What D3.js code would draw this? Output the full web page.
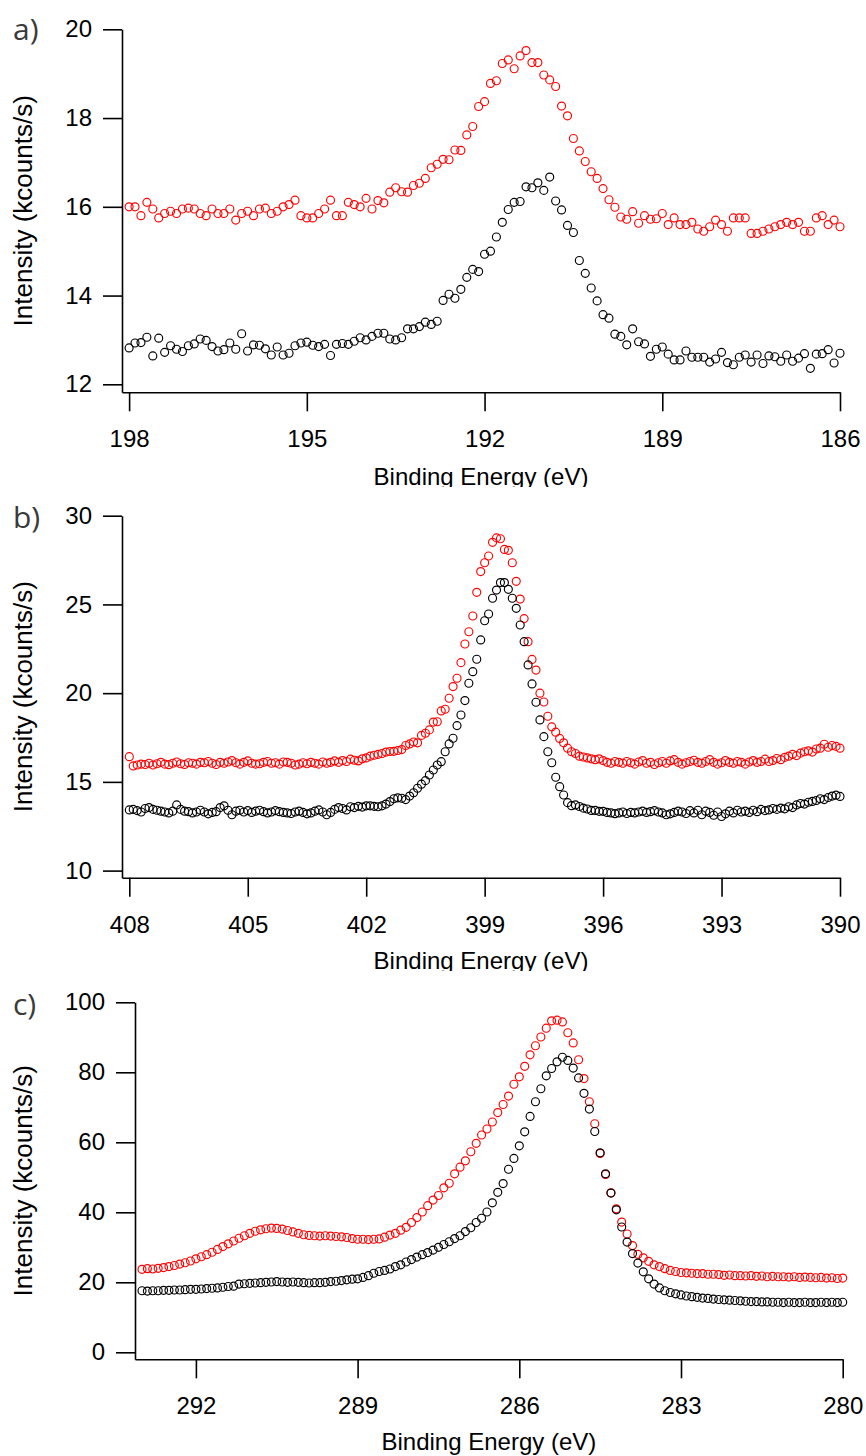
<!DOCTYPE html>
<html>
<head>
<meta charset="utf-8">
<script src="https://cdn.jsdelivr.net/npm/d3@7"></script>
<style>
  body { margin: 0; background: #fff; }
</style>
</head>
<body>
<div id="chart"></div>
<script>
//scan grids, every spectrum is sampled in 0.1 eV steps going down in energy
var stepEV = 0.1;
var aStart = 198;
var bStart = 408;
var cStart = 293;

//tick labels for each panel
var aTicksX = [198, 195, 192, 189, 186];
var aTicksY = [12, 14, 16, 18, 20];
var bTicksX = [408, 405, 402, 399, 396, 393, 390];
var bTicksY = [10, 15, 20, 25, 30];
var cTicksX = [292, 289, 286, 283, 280];
var cTicksY = [0, 20, 40, 60, 80, 100];

//panel a) intensities in kcounts/s
var aBlack = [12.82, 12.93, 12.94, 13.06, 12.64, 13.04, 12.72, 12.87, 12.79, 12.74, 12.87, 12.91, 13.02, 12.99, 12.85,
  12.75, 12.78, 12.93, 12.79, 13.14, 12.75, 12.89, 12.88, 12.80, 12.66, 12.84, 12.66, 12.70, 12.87, 12.93,
  12.95, 12.88, 12.85, 12.90, 12.65, 12.90, 12.92, 12.90, 12.97, 13.05, 13.00, 13.08, 13.15, 13.15, 13.02,
  13.00, 13.05, 13.25, 13.25, 13.30, 13.40, 13.35, 13.42,
  13.89, 14.03, 13.94, 14.14, 14.41, 14.59, 14.54, 14.93, 15.00, 15.32, 15.65, 15.94, 16.10, 16.12, 16.45,
  16.43, 16.54, 16.37, 16.67, 16.13, 15.93, 15.58, 15.42, 14.79, 14.50, 14.17, 13.88,
  13.57, 13.49, 13.13, 13.08, 12.89, 13.25, 12.96, 12.91, 12.63, 12.79, 12.84, 12.68, 12.55, 12.55, 12.75,
  12.61, 12.61, 12.61, 12.50, 12.57, 12.72, 12.49, 12.44, 12.61, 12.66, 12.50, 12.66, 12.47, 12.64, 12.62,
  12.52, 12.66, 12.52, 12.59, 12.69, 12.36, 12.68, 12.69, 12.78, 12.48, 12.70];
var aRed = [16.00, 16.00, 15.80, 16.10, 15.95, 15.75, 15.85, 15.90, 15.85, 15.95, 15.97, 15.95, 15.85, 15.80, 15.95,
  15.85, 15.85, 15.95, 15.70, 15.85, 15.90, 15.80, 15.95, 15.97, 15.85, 15.90, 16.00, 16.05, 16.15, 15.80,
  15.75, 15.75, 15.85, 15.95, 16.15, 15.80, 15.80, 16.10, 16.05,
  16.00, 16.19, 15.95, 16.14, 16.09, 16.33, 16.43, 16.34, 16.33, 16.48, 16.53, 16.64, 16.88, 16.96, 17.07,
  17.06, 17.28, 17.27, 17.62, 17.81, 18.26, 18.37, 18.78, 18.84, 19.23, 19.31, 19.11, 19.40, 19.52, 19.25,
  19.25, 18.97, 18.86, 18.71, 18.27, 18.05, 17.54, 17.26, 17.02, 16.79, 16.64, 16.41, 16.16, 15.99, 15.77,
  15.72, 15.89, 15.63, 15.80, 15.72, 15.73,
  15.85, 15.60, 15.75, 15.60, 15.60, 15.65, 15.50, 15.45, 15.55, 15.70, 15.60, 15.45, 15.75, 15.75, 15.75,
  15.40, 15.40, 15.45, 15.50, 15.55, 15.60, 15.65, 15.60, 15.65, 15.45, 15.45, 15.75, 15.80, 15.60, 15.70, 15.55];

//panel b) intensities in kcounts/s
var bBlack = [13.42, 13.45, 13.38, 13.30, 13.50, 13.55, 13.45, 13.40, 13.35, 13.30,
  13.25, 13.35, 13.70, 13.45, 13.35, 13.32, 13.25, 13.30, 13.40, 13.30,
  13.20, 13.28, 13.32, 13.55, 13.65, 13.40, 13.15, 13.35, 13.40, 13.30,
  13.38, 13.28, 13.35, 13.40, 13.32, 13.25, 13.30, 13.38, 13.32, 13.28,
  13.25, 13.22, 13.30, 13.35, 13.28, 13.20, 13.25, 13.35, 13.42, 13.30,
  13.15, 13.28, 13.45, 13.55, 13.50, 13.42, 13.60, 13.55, 13.62, 13.58, 13.65,
  13.65, 13.62, 13.60, 13.65, 13.75, 13.89, 14.05, 14.10, 14.08, 14.00,
  14.20, 14.39, 14.64, 14.87, 15.07, 15.39, 15.67, 15.95, 16.14, 16.70,
  17.14, 17.46, 18.17, 18.77, 19.58, 20.56, 21.21, 21.91, 23.00, 24.08,
  24.46, 25.35, 25.81, 26.23, 26.23, 25.85, 25.35, 24.78, 23.84, 22.90,
  21.59, 20.52, 19.49, 18.49, 17.55, 16.70, 16.08, 15.26, 14.73, 14.26,
  13.83, 13.66, 13.70, 13.61, 13.52, 13.47, 13.39, 13.39, 13.34, 13.34,
  13.28, 13.25, 13.21,
  13.25, 13.30, 13.22, 13.28, 13.25, 13.30, 13.35, 13.28, 13.32, 13.38,
  13.30, 13.25, 13.15, 13.20, 13.28, 13.35, 13.30, 13.22, 13.38, 13.25,
  13.40, 13.15, 13.35, 13.28, 13.12, 13.30, 13.05, 13.20, 13.35, 13.25,
  13.40, 13.30, 13.35, 13.28, 13.40, 13.32, 13.45, 13.38, 13.42, 13.50,
  13.45, 13.52, 13.48, 13.60, 13.55, 13.70, 13.78, 13.75, 13.85, 13.90,
  13.95, 14.05, 14.00, 14.12, 14.20, 14.25, 14.18];
var bRed = [16.42, 15.90, 15.95, 16.00, 15.98, 16.05, 15.95, 16.02, 16.10, 16.00,
  15.97, 16.05, 16.12, 16.02, 15.98, 16.08, 16.05, 16.00, 16.10, 16.08,
  16.15, 16.05, 15.98, 16.10, 16.05, 16.12, 16.20, 16.08, 16.00, 16.10,
  16.18, 16.05, 16.00, 16.02, 16.10, 16.15, 16.05, 16.08, 16.00, 16.12,
  16.10, 16.05, 15.95, 16.00, 16.08, 16.02, 16.10, 16.05, 16.00, 16.12,
  16.05, 16.10, 16.18, 16.10, 16.20, 16.15, 16.28, 16.22, 16.18, 16.30, 16.35,
  16.45, 16.50, 16.55, 16.60, 16.68, 16.71, 16.72, 16.77, 16.82, 17.05,
  17.14, 17.25, 17.20, 17.62, 17.74, 17.93, 18.37, 18.39, 19.00, 19.09,
  19.71, 20.37, 20.84, 21.72, 22.77, 23.46, 24.35, 25.68, 26.85, 27.35,
  27.73, 28.50, 28.75, 28.70, 28.10, 28.05, 27.35, 26.30, 25.30, 24.20,
  22.90, 21.90, 21.30, 20.00, 19.50, 18.70, 18.10, 17.80, 17.45, 17.20,
  16.90, 16.70, 16.60, 16.45, 16.40, 16.35, 16.30, 16.25, 16.30, 16.20,
  16.10, 16.05, 16.15,
  16.10, 16.05, 16.15, 16.08, 16.00, 16.12, 16.20, 16.05, 16.10, 15.98,
  16.08, 16.15, 16.05, 16.18, 16.25, 16.10, 16.00, 16.08, 16.15, 16.22,
  16.10, 16.05, 16.15, 16.25, 16.10, 16.00, 16.08, 16.20, 16.10, 16.05,
  16.15, 16.10, 16.00, 16.12, 16.20, 16.10, 16.15, 16.28, 16.15, 16.20,
  16.32, 16.25, 16.38, 16.45, 16.55, 16.48, 16.62, 16.70, 16.75, 16.68,
  16.85, 16.90, 17.12, 16.95, 17.05, 17.00, 16.90];

//panel c) intensities in kcounts/s
var cBlack = [17.6, 17.5, 17.6, 17.6, 17.7, 17.7, 17.8, 17.8, 17.9, 18.0,
  18.0, 18.1, 18.2, 18.3, 18.4, 18.6, 18.8, 18.9, 19.5, 19.6,
  19.7, 19.8, 19.9, 20.0, 20.1, 20.2, 20.1, 20.0, 20.1, 20.0,
  19.9, 19.8, 19.9, 19.9, 20.0, 20.2, 20.3, 20.5, 20.7, 20.9, 21.0,
  21.4, 21.9, 22.6, 23.1, 23.4, 23.8, 24.5, 25.0, 25.8, 26.5,
  27.2, 27.9, 28.5, 29.2, 30.0, 30.8, 31.6, 32.5, 33.3, 34.5,
  35.6, 37.1, 38.3, 40.1, 42.7, 45.7, 48.2, 52.3, 55.4, 59.0,
  63.0, 67.4, 71.6, 75.3, 79.0, 81.1, 83.0, 84.3, 83.4, 81.2,
  78.4, 74.0, 69.5, 63.1, 57.0, 51.0, 45.5, 40.7, 35.8, 31.5,
  28.2, 25.5,
  23.0, 21.0, 19.5, 18.4, 17.6, 17.1, 16.7, 16.4, 16.1, 15.9,
  15.7, 15.5, 15.4, 15.2, 15.1, 15.0, 14.9, 14.8, 14.7, 14.6,
  14.5, 14.5, 14.4, 14.4, 14.3, 14.3, 14.2, 14.3, 14.2, 14.2,
  14.3, 14.2, 14.2, 14.3, 14.2, 14.3, 14.2, 14.3];
var cRed = [23.7, 23.9, 23.8, 24.0, 24.2, 24.5, 24.8, 25.2, 25.6, 26.1,
  26.7, 27.3, 27.9, 28.6, 29.4, 30.2, 31.0, 31.8, 32.6, 33.3,
  34.0, 34.6, 35.0, 35.3, 35.5, 35.4, 35.2, 34.8, 34.4, 34.0,
  33.6, 33.4, 33.3, 33.2, 33.3, 33.2, 33.1, 33.0, 32.8, 32.5, 32.3,
  32.3, 32.2, 32.3, 32.4, 32.9, 33.5, 34.0, 34.9, 35.7, 37.1,
  38.5, 40.1, 41.9, 43.5, 44.8, 47.0, 48.3, 51.0, 52.9, 54.7,
  57.3, 59.7, 62.1, 63.8, 65.8, 68.5, 70.8, 73.2, 76.6, 78.7,
  81.7, 85.0, 87.6, 90.1, 92.6, 94.7, 94.9, 94.4, 91.3, 88.4,
  83.6, 78.2, 71.6, 65.3, 56.8, 50.8, 45.6, 41.0, 37.2, 33.8,
  30.5, 28.0, 27.0, 26.0, 25.0, 24.5, 23.9, 23.4, 23.1, 22.8,
  22.7, 22.6, 22.5, 22.5, 22.3, 22.3, 22.2, 22.0, 22.1, 21.9,
  21.9, 21.8, 21.9, 21.7, 21.8, 21.6, 21.7, 21.6, 21.6, 21.5,
  21.6, 21.4, 21.5, 21.4, 21.3, 21.4, 21.2, 21.3, 21.1, 21.2];

var width = 866;
var height = 1456;
var tickFont = "'Liberation Sans', Arial, sans-serif";

var svg = d3.select("#chart").append("svg")
  .attr("width", width)
  .attr("height", height);

//turns a list of intensities into [energy, intensity] pairs on the scan grid
function toPoints(start, values) {
  return values.map(function(v, i) {
    return [start - i * stepEV, v];
  });
}

//draws one panel: axes, titles, both spectra
function drawPanel(p) {
  //each panel is cut at its own bottom edge, like the pasted figure
  svg.append("clipPath")
    .attr("id", "clip-" + p.name)
    .append("rect")
    .attr("x", 0)
    .attr("y", p.clipTop)
    .attr("width", width)
    .attr("height", p.clipBottom - p.clipTop);

  var g = svg.append("g").attr("clip-path", "url(#clip-" + p.name + ")");

  var x = d3.scaleLinear().domain(p.xDomain).range([p.left, p.right]);
  var y = d3.scaleLinear().domain(p.yDomain).range([p.bottom, p.top]);

  //x axis, ticks hang below the line
  var xAxis = g.append("g")
    .attr("transform", "translate(0," + p.bottom + ")")
    .call(d3.axisBottom(x).tickValues(p.ticksX).tickSize(19).tickSizeOuter(0).tickPadding(19).tickFormat(d3.format("d")));

  //y axis, ticks point left
  var yAxis = g.append("g")
    .attr("transform", "translate(" + p.left + ",0)")
    .call(d3.axisLeft(y).tickValues(p.ticksY).tickSize(19).tickSizeOuter(0).tickPadding(11).tickFormat(d3.format("d")));

  [xAxis, yAxis].forEach(function(ax) {
    ax.selectAll("path, line").attr("stroke", "#000").attr("stroke-width", 1.6);
    ax.selectAll("text")
      .attr("fill", "#000")
      .style("font-family", tickFont)
      .style("font-size", "24px");
  });

  //axis titles
  g.append("text")
    .attr("x", (p.left + p.right) / 2)
    .attr("y", p.bottom + p.titleGap)
    .attr("text-anchor", "middle")
    .style("font-family", tickFont)
    .style("font-size", "24px")
    .text("Binding Energy (eV)");

  g.append("text")
    .attr("transform", "rotate(-90)")
    .attr("x", -(p.top + p.bottom) / 2)
    .attr("y", 32)
    .attr("text-anchor", "middle")
    .style("font-family", tickFont)
    .style("font-size", "26px")
    .text("Intensity (kcounts/s)");

  //panel letter
  g.append("text")
    .attr("x", 13)
    .attr("y", p.labelY)
    .attr("fill", "#3a3a3a")
    .style("font-family", "'Open Sans', 'Noto Sans', sans-serif")
    .style("font-size", "30px")
    .text(p.name + ")");

  //the two spectra as open circles, red underneath
  var series = [
    { pts: toPoints(p.start, p.red), colour: "#ff0000" },
    { pts: toPoints(p.start, p.black), colour: "#000000" }
  ];

  series.forEach(function(s) {
    g.append("g")
      .selectAll("circle")
      .data(s.pts)
      .enter()
      .append("circle")
      .attr("cx", function(d) { return x(d[0]); })
      .attr("cy", function(d) { return y(d[1]); })
      .attr("r", 4)
      .attr("fill", "none")
      .attr("stroke", s.colour)
      .attr("stroke-width", 1.15);
  });
}

drawPanel({
  name: "a", clipTop: 0, clipBottom: 487, titleGap: 93,
  left: 122, right: 840, top: 29.3, bottom: 392.3,
  xDomain: [198.12, 186], yDomain: [11.82, 20],
  ticksX: aTicksX, ticksY: aTicksY, labelY: 40,
  start: aStart, black: aBlack, red: aRed
});

drawPanel({
  name: "b", clipTop: 487, clipBottom: 971, titleGap: 91,
  left: 122, right: 840, top: 515.7, bottom: 877.7,
  xDomain: [408.185, 390], yDomain: [9.6, 30],
  ticksX: bTicksX, ticksY: bTicksY, labelY: 528,
  start: bStart, black: bBlack, red: bRed
});

drawPanel({
  name: "c", clipTop: 971, clipBottom: 1456, titleGap: 91,
  left: 135, right: 842.7, top: 1002.3, bottom: 1359.3,
  xDomain: [293.13, 280], yDomain: [-2, 100],
  ticksX: cTicksX, ticksY: cTicksY, labelY: 1015,
  start: cStart, black: cBlack, red: cRed
});
</script>
</body>
</html>
